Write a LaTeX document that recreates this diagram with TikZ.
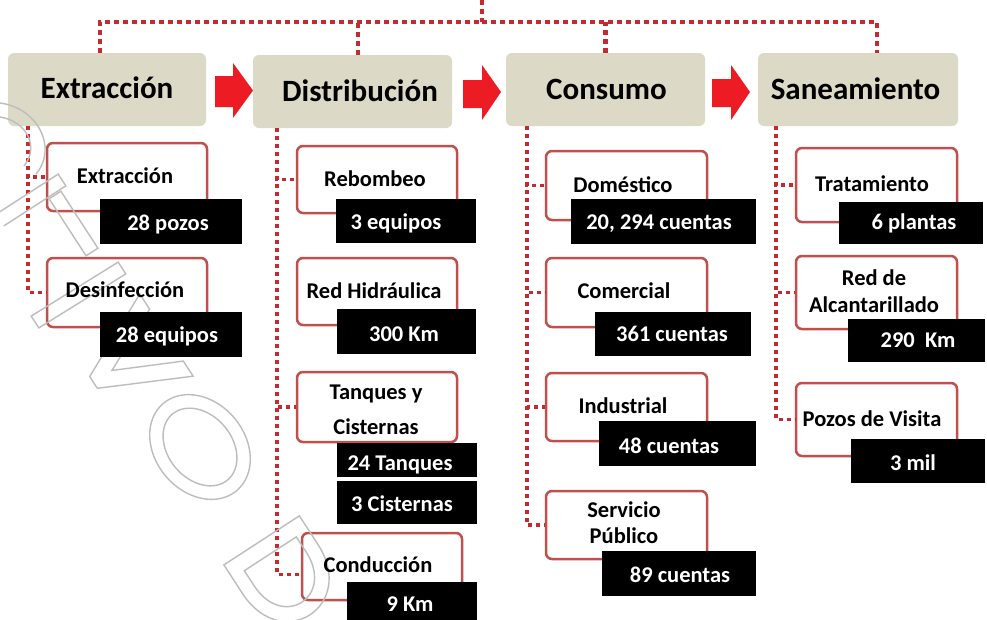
\documentclass[tikz,border=0pt]{standalone}
\usepackage{fontspec}
\setmainfont{Carlito}
\definecolor{hdrbg}{HTML}{DDD9C7}
\definecolor{arrred}{HTML}{ED1C24}
\definecolor{dotred}{HTML}{C42A30}
\definecolor{boxred}{HTML}{C0504D}
\definecolor{wmgray}{HTML}{BDBDBD}
\tikzset{
  hdr/.style={fill=hdrbg, rounded corners=6pt, inner sep=0pt},
  subbox/.style={draw=boxred, line width=2.5pt, fill=white, rounded corners=6pt, inner sep=0pt},
  valbox/.style={fill=black, inner sep=0pt},
  htext/.style={anchor=base, inner sep=0pt, font=\fontsize{31}{36}\selectfont\bfseries},
  stext/.style={anchor=base, inner sep=0pt, font=\fontsize{22.5}{26}\selectfont\bfseries, align=center},
  vtext/.style={anchor=base, inner sep=0pt, text=white, font=\fontsize{22.5}{26}\selectfont\bfseries},
  topdot/.style={draw=dotred, line width=4.5pt, dash pattern=on 5pt off 4pt},
  coldot/.style={draw=dotred, line width=3.5pt, dash pattern=on 4pt off 4pt},
  blockarrow/.style={fill=arrred},
  wm/.style={draw=wmgray, line width=1.4pt}
}
\begin{document}
\begin{tikzpicture}[x=1pt,y=-1pt]
\useasboundingbox (0,0) rectangle (987,619);
\fill[white] (0,0) rectangle (987,619);

% header boxes
\node[hdr, minimum width=198pt, minimum height=73pt] (h1) at (107,89.5) {};
\node[hdr, minimum width=199pt, minimum height=73pt] (h2) at (352.5,91.5) {};
\node[hdr, minimum width=199pt, minimum height=73pt] (h3) at (605.5,89.5) {};
\node[hdr, minimum width=200pt, minimum height=73pt] (h4) at (858,89.5) {};

% top dotted bus
\coordinate (root) at (482,0);
\coordinate (bus) at (482,22);
\draw[topdot] (root) -- (bus);
\draw[topdot] ([xshift=-7pt]h1.north) |- (bus);
\draw[topdot] (bus) -| ([xshift=19pt]h4.north);
\draw[topdot] ([xshift=5.5pt]h2.north) -- ([xshift=5.5pt]h2.north |- bus);
\draw[topdot] (h3.north) -- (h3.north |- bus);

% column anchors
\coordinate (k1) at ([xshift=-79pt]h1.south);
\coordinate (k2) at ([xshift=-75.5pt]h2.south);
\coordinate (k3) at ([xshift=-78.5pt]h3.south);
\coordinate (k4) at ([xshift=-82pt]h4.south);

% sub boxes
\node[subbox, minimum width=160pt, minimum height=68pt] (e1) at (127,177) {};
\node[subbox, minimum width=160pt, minimum height=69pt] (e2) at (127,292.5) {};
\node[subbox, minimum width=160pt, minimum height=67pt] (d1) at (377,179.5) {};
\node[subbox, minimum width=160pt, minimum height=67pt] (d2) at (377,291.5) {};
\node[subbox, minimum width=160pt, minimum height=70pt] (d3) at (377,407) {};
\node[subbox, minimum width=160pt, minimum height=67pt] (d4) at (382,566.5) {};
\node[subbox, minimum width=161pt, minimum height=69pt] (c1) at (626.5,185.5) {};
\node[subbox, minimum width=161pt, minimum height=69pt] (c2) at (626.5,292.5) {};
\node[subbox, minimum width=161pt, minimum height=68pt] (c3) at (626.5,407) {};
\node[subbox, minimum width=161pt, minimum height=68pt] (c4) at (626.5,525) {};
\node[subbox, minimum width=161pt, minimum height=74pt] (s1) at (876.5,185) {};
\node[subbox, minimum width=161pt, minimum height=73pt] (s2) at (876.5,292.5) {};
\node[subbox, minimum width=161pt, minimum height=73pt] (s3) at (876.5,419.5) {};

% column connectors
\draw[coldot] (k1) |- (e1.west);
\draw[coldot] (k1) |- (e2.west);
\draw[coldot] (k2) |- (d1.west);
\draw[coldot] (k2) |- (d3.west);
\draw[coldot] (k2) |- ([yshift=-8pt]d4.west);
\draw[coldot] (k3) |- (c1.west);
\draw[coldot] (k3) |- (c2.west);
\draw[coldot] (k3) |- (c3.west);
\draw[coldot] (k3) |- (c4.west);
\draw[coldot] (k4) |- (s1.west);
\draw[coldot] (k4) |- (s2.west);
\draw[coldot] (k4) |- (s3.west);

% block arrows
\fill[blockarrow] (215,76) -- (233,76) -- (233,63) -- (253,90.5) -- (233,118) -- (233,107) -- (215,107) -- cycle;
\fill[blockarrow] (463,80) -- (482,80) -- (482,65) -- (501,92) -- (482,120) -- (482,108) -- (463,108) -- cycle;
\fill[blockarrow] (712,79) -- (731,79) -- (731,65) -- (750,92) -- (731,120) -- (731,107) -- (712,107) -- cycle;

% watermark outlines
\draw[wm] (0,103) .. controls (38,108) and (58,148) .. (36,174);
\draw[wm] (0,117) .. controls (26,121) and (40,146) .. (24,166);
\draw[wm] (-3.8,214.1) -- (58.2,174.1) -- (65.8,185.9) -- (3.8,225.9);
\draw[wm] (60.9,191.2) -- (97.9,248.2) -- (86.1,255.8) -- (49.1,198.8) -- cycle;
\draw[wm] (31.2,316.1) -- (118.2,262.1) -- (125.8,273.9) -- (38.8,327.9) -- cycle;
\begin{scope}[shift={(93,378)}, rotate=-57]
  \draw[wm] (-45,-85) -- (-27,-85) -- (4,-20) -- (35,-85) -- (53,-85) -- (11,2) -- (-3,2) -- cycle;
  \draw[wm] (228,-8) -- (228,-98) -- (262,-98) .. controls (335,-98) and (335,-8) .. (262,-8) -- cycle;
  \draw[wm] (244,-22) -- (244,-84) -- (262,-84) .. controls (315,-84) and (315,-22) .. (262,-22) -- cycle;
\end{scope}
\draw[wm, rotate around={-50:(200,447)}] (200,447) ellipse (57 and 45);
\draw[wm, rotate around={-50:(200,447)}] (200,447) ellipse (43 and 32);

% value boxes
\node[valbox, minimum width=142pt, minimum height=45pt] (ve1) at (171,221.5) {};
\node[valbox, minimum width=142pt, minimum height=45pt] (ve2) at (171,334.5) {};
\node[valbox, minimum width=140pt, minimum height=44pt] (vd1) at (406,221) {};
\node[valbox, minimum width=139pt, minimum height=45pt] (vd2) at (406.5,331.5) {};
\node[valbox, minimum width=140pt, minimum height=34pt] (vd3a) at (407,460) {};
\node[valbox, minimum width=140pt, minimum height=43pt] (vd3b) at (407,502.5) {};
\node[valbox, minimum width=130pt, minimum height=40pt] (vd4) at (412,602) {};
\node[valbox, minimum width=185pt, minimum height=45pt] (vc1) at (663.5,221.5) {};
\node[valbox, minimum width=156pt, minimum height=44pt] (vc2) at (673,334) {};
\node[valbox, minimum width=157pt, minimum height=45pt] (vc3) at (677.5,443.5) {};
\node[valbox, minimum width=154pt, minimum height=45pt] (vc4) at (679,573.5) {};
\node[valbox, minimum width=144pt, minimum height=42pt] (vs1) at (911,223) {};
\node[valbox, minimum width=137pt, minimum height=43pt] (vs2) at (916.5,340.5) {};
\node[valbox, minimum width=134pt, minimum height=44pt] (vs3) at (918,461) {};

% header texts
\node[htext] (th1) at (107,98) {Extracción};
\node[htext] (th2) at (360,101) {Distribución};
\node[htext] (th3) at (606.5,99) {Consumo};
\node[htext] (th4) at (855.5,99) {Saneamiento};

% sub texts
\node[stext] (te1) at (125,183) {Extracción};
\node[stext] (te2) at (125,297) {Desinfección};
\node[stext] (td1) at (375,186) {Rebombeo};
\node[stext] (td2) at (374,298) {Red Hidráulica};
\node[stext, font=\fontsize{22.5}{35}\selectfont\bfseries] (td3) at (376,434) {Tanques y\\Cisternas};
\node[stext] (td4) at (378,572) {Conducción};
\node[stext] (tc1) at (623,192) {Doméstico};
\node[stext] (tc2) at (624,298) {Comercial};
\node[stext] (tc3) at (623,413) {Industrial};
\node[stext, font=\fontsize{22.5}{26}\selectfont\bfseries] (tc4) at (624,543) {Servicio\\Público};
\node[stext] (ts1) at (872,191) {Tratamiento};
\node[stext, font=\fontsize{22.5}{27}\selectfont\bfseries] (ts2) at (874,312) {Red de\\Alcantarillado};
\node[stext] (ts3) at (872,426) {Pozos de Visita};

% value texts
\node[vtext] (tve1) at (168,230) {28 pozos};
\node[vtext] (tve2) at (167,342) {28 equipos};
\node[vtext] (tvd1) at (396,229) {3 equipos};
\node[vtext] (tvd2) at (404,341) {300 Km};
\node[vtext] (tvd3a) at (400,470) {24 Tanques};
\node[vtext] (tvd3b) at (402,511) {3 Cisternas};
\node[vtext] (tvd4) at (410,611) {9 Km};
\node[vtext] (tvc1) at (659,229) {20, 294 cuentas};
\node[vtext] (tvc2) at (672,341) {361 cuentas};
\node[vtext] (tvc3) at (669,453) {48 cuentas};
\node[vtext] (tvc4) at (680,582) {89 cuentas};
\node[vtext] (tvs1) at (914,229) {6 plantas};
\node[vtext] (tvs2) at (918,347) {290~ Km};
\node[vtext] (tvs3) at (913,470) {3 mil};
\end{tikzpicture}
\end{document}
